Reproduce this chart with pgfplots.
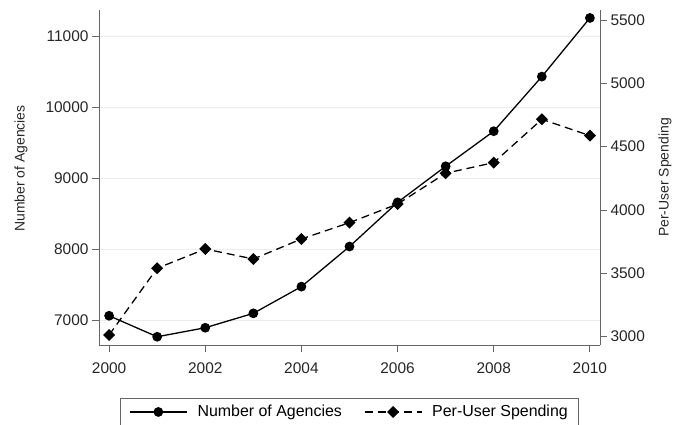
\documentclass[border=0pt]{standalone}
\usepackage{fontspec}
\setmainfont{Liberation Sans}
\usepackage{pgfplots}
\pgfplotsset{compat=1.18}
\definecolor{axgray}{gray}{0.4}
\definecolor{gridgray}{gray}{0.93}
\pgfplotsset{
  common/.style={
    at={(0,0)}, anchor=south west,
    scale only axis, width=501bp, height=335bp,
    xmin=1999.79, xmax=2010.21,
    axis line style={axgray, line width=0.9bp, -},
    tick style={axgray, line width=0.9bp},
    tick align=outside, major tick length=7bp,
    scaled ticks=false,
    /pgf/number format/1000 sep={},
    /pgf/number format/assume math mode=true,
    ticklabel style={font=\fontsize{15.5}{18}\selectfont, text=black!85},
  },
  linelegend/.style={legend image code/.code={\draw[mark repeat=2,mark phase=2,##1] plot coordinates {(0bp,0bp) (28.5bp,0bp) (57bp,0bp)};}},
}
\begin{document}
\begin{tikzpicture}[x=1bp,y=1bp]
\begin{axis}[common,
  ymin=6648, ymax=11366,
  axis x line*=bottom, axis y line*=left,
  xtick={2000,2002,2004,2006,2008,2010},
  ytick={7000,8000,9000,10000,11000},
  xticklabel style={yshift=-7bp},
  ymajorgrids, grid style={gridgray, line width=0.9bp},
  ylabel={Number of Agencies},
  every axis y label/.style={at={(axis description cs:-0.1557,0.527)}, rotate=90, anchor=center, font=\fontsize{14}{17}\selectfont, text=black!85},
]
\addplot[black, line width=1.3bp, mark=*, mark size=4.2bp] coordinates {
(2000,7060) (2001,6764) (2002,6891) (2003,7094) (2004,7470) (2005,8035)
(2006,8657) (2007,9165) (2008,9659) (2009,10428) (2010,11254)};
\end{axis}
\begin{axis}[common, linelegend,
  ymin=2934, ymax=5579,
  axis x line=none, axis y line*=right,
  ytick={3000,3500,4000,4500,5000,5500},
  ylabel={Per-User Spending},
  every axis y label/.style={at={(axis description cs:1.1297,0.5)}, rotate=90, anchor=center, font=\fontsize{14}{17}\selectfont, text=black!85},
  legend columns=2,
  legend style={at={(axis description cs:0.5,0)}, anchor=north, yshift=-53bp,
    draw=axgray, line width=0.9bp, font=\fontsize{16}{19}\selectfont,
    inner xsep=9bp, inner ysep=5bp,
    /tikz/every odd column/.append style={column sep=8bp},
    /tikz/every even column/.append style={column sep=20bp}},
]
\addlegendimage{black, line width=1.3bp, mark=*, mark size=4.2bp}
\addlegendentry{Number of Agencies}
\addplot[black, line width=1.3bp, dash pattern=on 8bp off 5bp, mark=square*, mark size=3.6bp, mark options={rotate=45, solid}] coordinates {
(2000,3013) (2001,3540) (2002,3692) (2003,3613) (2004,3771) (2005,3900)
(2006,4047) (2007,4290) (2008,4374) (2009,4716) (2010,4587)};
\addlegendentry{Per-User Spending}
\end{axis}
\pgfresetboundingbox
\useasboundingbox (-99bp,-80bp) rectangle (585bp,345bp);
\end{tikzpicture}
\end{document}
